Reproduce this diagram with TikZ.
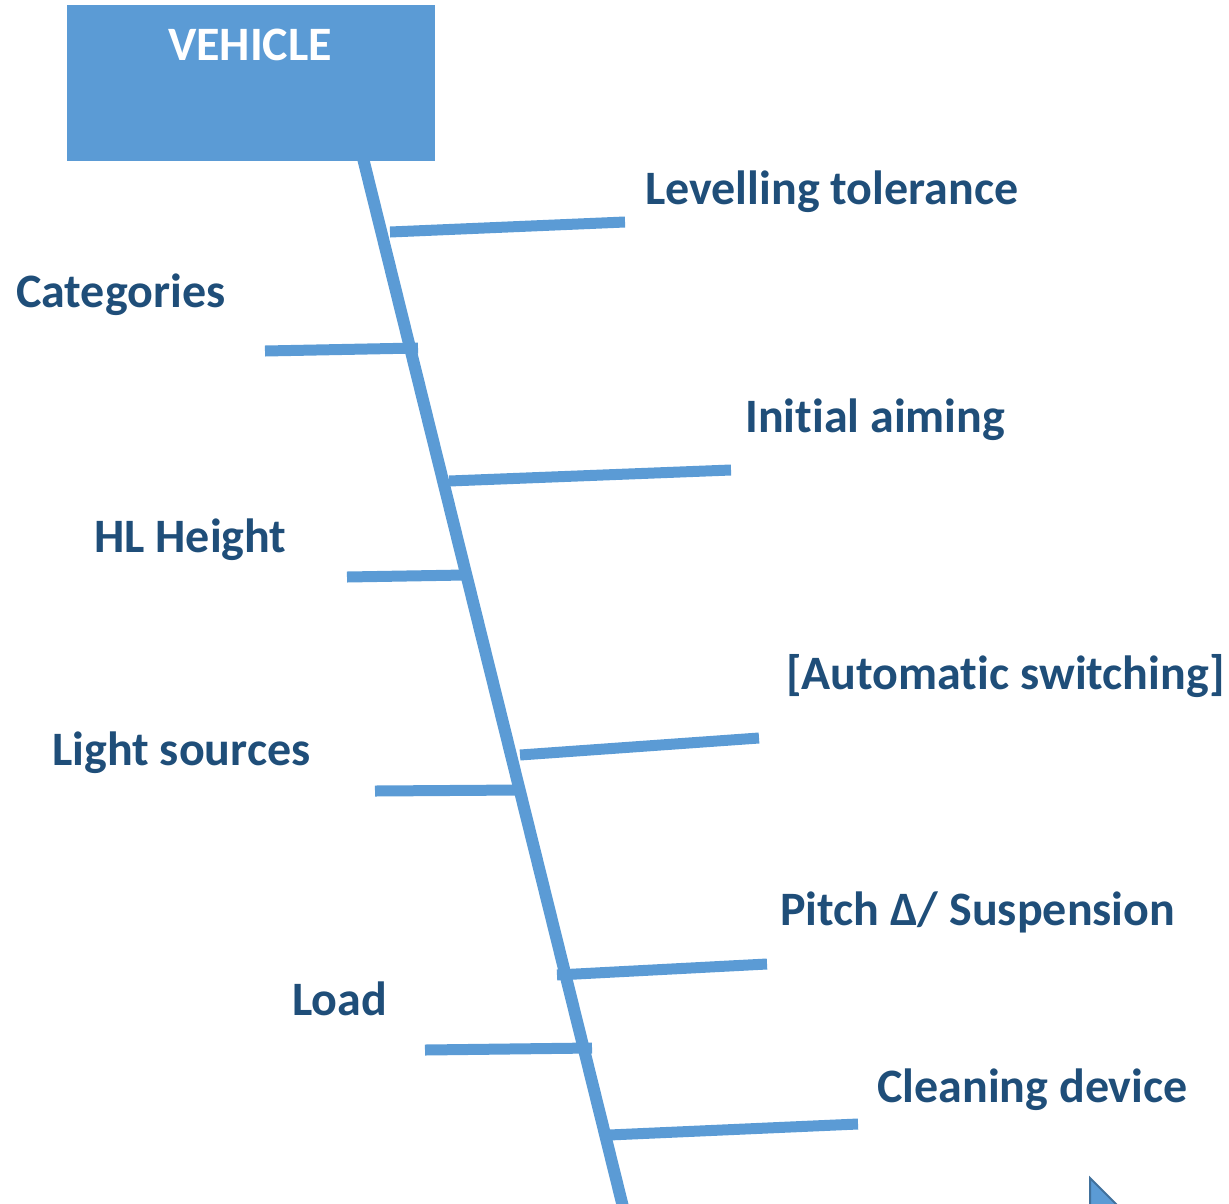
\documentclass[tikz,border=0pt]{standalone}
\usepackage{fontspec}
\setmainfont[Ligatures=CommonOff]{Carlito}
\definecolor{fbblue}{HTML}{5B9BD5}
\definecolor{fbtext}{HTML}{1F4E79}
\definecolor{fbedge}{HTML}{41719C}
\begin{document}
\begin{tikzpicture}[x=1pt,y=-1pt,
  lbl/.style={anchor=base west, inner sep=0pt, text=fbtext, font=\fontsize{48}{56}\selectfont\bfseries},
  bone/.style={draw=fbblue, line width=11pt},
  spinestyle/.style={draw=fbblue, line width=12pt}]
\useasboundingbox (0,0) rectangle (1229,1203);
\clip (0,0) rectangle (1229,1203);
% spine
\coordinate (s0) at (361,150);
\coordinate (s1) at (625,1215);
\draw[spinestyle] (s0) -- (s1);
% head box
\node[fill=fbblue, minimum width=368pt, minimum height=156pt, inner sep=0pt, anchor=north west] (box) at (67,5) {};
\node[anchor=base, inner sep=0pt, text=white, font=\fontsize{48}{56}\selectfont\bfseries] (vt) at (250,60) {VEHICLE};
% branches
\coordinate (b1a) at (390,232); \coordinate (b1b) at (625,222);
\coordinate (b2a) at (265,351); \coordinate (b2b) at (418,348);
\coordinate (b3a) at (449,481); \coordinate (b3b) at (731,470);
\coordinate (b4a) at (347,577); \coordinate (b4b) at (465,575);
\coordinate (b5a) at (520,755); \coordinate (b5b) at (759,738);
\coordinate (b6a) at (375,791); \coordinate (b6b) at (521,790);
\coordinate (b7a) at (557,975); \coordinate (b7b) at (767,964);
\coordinate (b8a) at (425,1050); \coordinate (b8b) at (592,1048);
\coordinate (b9a) at (609,1135); \coordinate (b9b) at (858,1124);
\foreach \i in {1,...,9} {\draw[bone] (b\i a) -- (b\i b);}
% labels
\node[lbl] (t1) at (645,204) {Levelling tolerance};
\node[lbl] (t2) at (16,307) {Categories};
\node[lbl] (t3) at (745,432) {Initial aiming};
\node[lbl] (t4) at (94,552) {HL Height};
\node[lbl] (t5) at (786,689) {[Automatic switching]};
\node[lbl] (t6) at (52,765) {Light sources};
\node[lbl] (t7) at (780,925) {Pitch Δ/ Suspension};
\node[lbl] (t8) at (292,1015) {Load};
\node[lbl] (t9) at (877,1102) {Cleaning device};
% cut-off arrow tip
\draw[fill=fbblue, draw=fbedge, line width=2pt] (1090,1178) -- (1128,1216) -- (1090,1216) -- cycle;
\end{tikzpicture}
\end{document}
